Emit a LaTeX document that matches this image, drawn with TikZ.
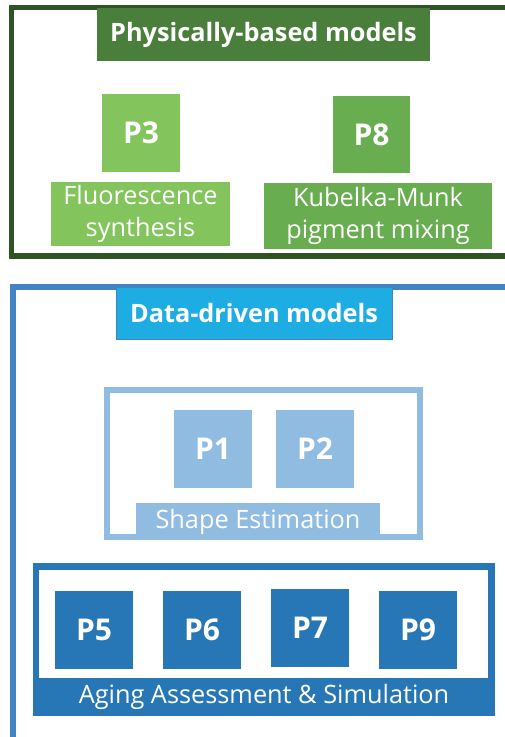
\documentclass[tikz,border=0pt]{standalone}
\usepackage{fontspec}
\setmainfont{Open Sans}
\usepackage{tikz}

\definecolor{physframe}{HTML}{2E5426}
\definecolor{phystitle}{HTML}{4A7E3B}
\definecolor{pthree}{HTML}{84C45C}
\definecolor{peight}{HTML}{69AD51}
\definecolor{dataframe}{HTML}{4383C4}
\definecolor{datatitle}{HTML}{1EADE3}
\definecolor{shapecol}{HTML}{8FBCE0}
\definecolor{agingcol}{HTML}{2777B7}

\begin{document}
\begin{tikzpicture}[x=1pt,y=-1pt,
    box/.style={inner sep=0pt, text=white, minimum width=78pt, minimum height=78pt, font=\fontsize{30}{32}\selectfont\bfseries},
    title/.style={inner sep=0pt, text=white, font=\fontsize{25.3}{28}\selectfont\bfseries},
    label/.style={inner sep=0pt, text=white, align=center, font=\fontsize{25.3}{32}\selectfont}]
    \clip (0,0) rectangle (505,737);

    % physically-based part
    \draw[physframe, line width=5.5pt] (11.5,7.5) rectangle (520,256);
    \node[title, fill=phystitle, minimum width=333pt, minimum height=53pt] (phys) at (263.5,34.5) {Physically-based models};
    \node[box, fill=pthree] (P3) at (141,133) {P3};
    \node[label, fill=pthree, minimum width=179pt, minimum height=64pt] (fluor) at (140.5,214) {Fluorescence\\synthesis};
    \node[box, fill=peight, minimum width=77pt, minimum height=77pt] (P8) at (371.5,134.5) {P8};
    \node[label, fill=peight, minimum width=228pt, minimum height=66pt] (kubelka) at (378,216) {Kubelka-Munk\\pigment mixing};

    % data-driven part
    \draw[dataframe, line width=6pt] (13,287) rectangle (520,760);
    \node[title, fill=datatitle, draw=dataframe, line width=0.8pt, minimum width=276pt, minimum height=52pt] (data) at (254,313) {Data-driven models};

    \draw[shapecol, line width=6pt] (107,390) rectangle (420,537);
    \node[box, fill=shapecol] (P1) at (213,449) {P1};
    \node[box, fill=shapecol] (P2) at (315,449) {P2};
    \node[label, fill=shapecol, minimum width=244pt, minimum height=37pt] (shape) at (258,521.5) {Shape Estimation};

    \draw[agingcol, line width=6.5pt] (36,566.5) rectangle (491.5,697);
    \node[box, fill=agingcol] (P5) at (94,630) {P5};
    \node[box, fill=agingcol] (P6) at (202,630) {P6};
    \node[box, fill=agingcol] (P7) at (310,628) {P7};
    \node[box, fill=agingcol] (P9) at (418,630) {P9};
    \node[label, fill=agingcol, minimum width=462pt, minimum height=38pt] (aging) at (264,697) {Aging Assessment \& Simulation};
\end{tikzpicture}
\end{document}
